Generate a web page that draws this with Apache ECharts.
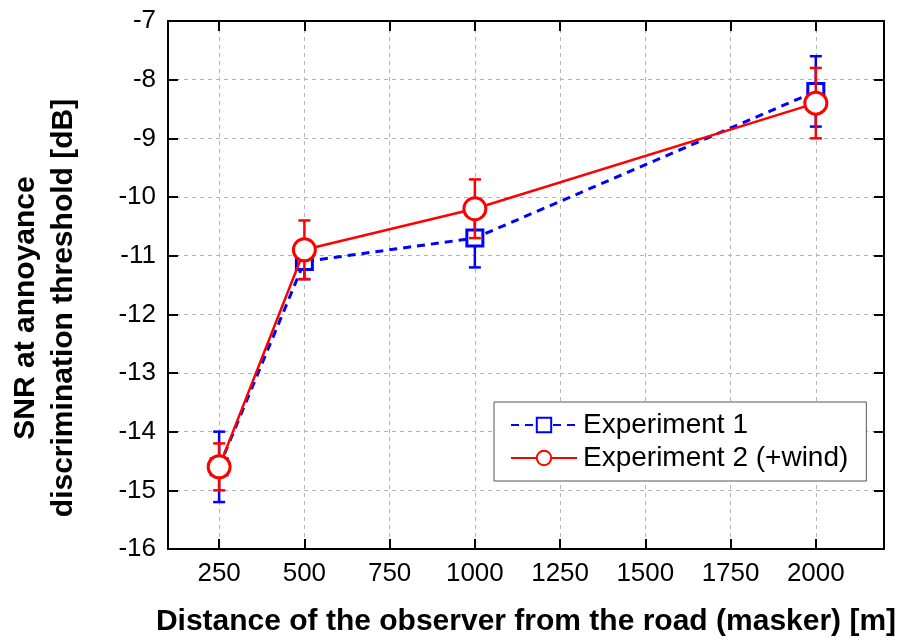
<!DOCTYPE html>
<html><head><meta charset="utf-8">
<script src="https://cdn.jsdelivr.net/npm/echarts@6/dist/echarts.min.js"></script>
<style>html,body{margin:0;padding:0;background:#fff}#c{width:904px;height:642px}</style>
</head><body><div id="c"></div>
<script>
const distances = [250, 500, 1000, 2000];
const exp1Mean = [-14.6, -11.1, -10.7, -8.2];
const exp1Err = [0.6, 0.3, 0.5, 0.6];
const exp2Mean = [-14.6, -10.9, -10.2, -8.4];
const exp2Err = [0.4, 0.5, 0.5, 0.6];
const xTicks = [250, 500, 750, 1000, 1250, 1500, 1750, 2000];
const seriesNames = ['Experiment 1', 'Experiment 2 (+wind)'];
const xTitle = 'Distance of the observer from the road (masker) [m]';
const yTitle = 'SNR at annoyance\ndiscrimination threshold [dB]';

const FONT = "'Liberation Sans', Arial, sans-serif";
const BLUE = '#0000ff';
const RED = '#ff0000';

function errRender(color) {
  return function (params, api) {
    const x = api.value(0), lo = api.value(1), hi = api.value(2);
    const pLo = api.coord([x, lo]), pHi = api.coord([x, hi]);
    const cap = 6;
    const style = { stroke: color, lineWidth: 2.5 };
    return { type: 'group', children: [
      { type: 'line', shape: { x1: pLo[0], y1: pLo[1], x2: pHi[0], y2: pHi[1] }, style: style },
      { type: 'line', shape: { x1: pLo[0] - cap, y1: pLo[1], x2: pLo[0] + cap, y2: pLo[1] }, style: style },
      { type: 'line', shape: { x1: pHi[0] - cap, y1: pHi[1], x2: pHi[0] + cap, y2: pHi[1] }, style: style }
    ]};
  };
}

const errData = (m, e) => distances.map((d, i) => [d, m[i] - e[i], m[i] + e[i]]);
const lineData = (m) => distances.map((d, i) => [d, m[i]]);

const chart = echarts.init(document.getElementById('c'), null, { renderer: 'canvas' });

const baseX = {
  type: 'value', min: 100, max: 2200,
  axisLine: { show: true, onZero: false, lineStyle: { color: '#000', width: 2 } },
  axisTick: { show: true, inside: true, length: 10, customValues: xTicks, lineStyle: { color: '#000', width: 2 } },
  splitLine: { show: false }
};
const baseY = {
  type: 'value', min: -16, max: -7, interval: 1,
  axisLine: { show: true, onZero: false, lineStyle: { color: '#000', width: 2 } },
  axisTick: { show: true, inside: true, length: 10, lineStyle: { color: '#000', width: 2 } },
  splitLine: { show: false }
};

chart.setOption({
  animation: false,
  textStyle: { fontFamily: FONT },
  grid: { left: 168, right: 20, top: 21, bottom: 93, containLabel: false, outerBoundsMode: 'none' },
  xAxis: [
    Object.assign({}, baseX, {
      position: 'bottom',
      axisLabel: { customValues: xTicks, fontSize: 26, color: '#000', margin: 12, fontFamily: FONT,
        formatter: (v) => String(v) },
      splitLine: { show: true, lineStyle: { color: '#b4b4b4', type: [4, 4], width: 1 } },
      name: xTitle,
      nameLocation: 'middle', nameGap: 58,
      nameTextStyle: { fontSize: 30, fontWeight: 'bold', color: '#000', fontFamily: FONT }
    }),
    Object.assign({}, baseX, { position: 'top', axisLabel: { show: false } })
  ],
  yAxis: [
    Object.assign({}, baseY, {
      position: 'left',
      axisLabel: { fontSize: 26, color: '#000', margin: 12, fontFamily: FONT },
      splitLine: { show: true, lineStyle: { color: '#b4b4b4', type: [4, 4], width: 1 } }
    }),
    Object.assign({}, baseY, { position: 'right', axisLabel: { show: false } })
  ],
  graphic: [{
    type: 'text', x: 45, y: 308, rotation: Math.PI / 2,
    style: { text: yTitle, font: "bold 30px 'Liberation Sans', Arial, sans-serif", fill: '#000',
      align: 'center', verticalAlign: 'middle', lineHeight: 38 }
  }],
  legend: {
    data: seriesNames,
    orient: 'vertical',
    left: 494, top: 402,
    padding: [9, 18, 9, 16],
    itemGap: 5,
    itemWidth: 66, itemHeight: 18,
    backgroundColor: '#fff',
    borderColor: '#555', borderWidth: 1, borderRadius: 0,
    textStyle: { fontSize: 28, color: '#000', fontFamily: FONT, padding: [0, 0, 0, 1] }
  },
  series: [
    {
      type: 'custom', name: 'err1', z: 2, silent: true,
      renderItem: errRender(BLUE),
      encode: { x: 0, y: [1, 2] },
      data: errData(exp1Mean, exp1Err)
    },
    {
      type: 'line', name: seriesNames[0], z: 3,
      data: lineData(exp1Mean),
      symbol: 'rect', symbolSize: 16,
      lineStyle: { color: BLUE, width: 3, type: [8, 6] },
      itemStyle: { color: '#fff', borderColor: BLUE, borderWidth: 3 }
    },
    {
      type: 'custom', name: 'err2', z: 4, silent: true,
      renderItem: errRender(RED),
      encode: { x: 0, y: [1, 2] },
      data: errData(exp2Mean, exp2Err)
    },
    {
      type: 'line', name: seriesNames[1], z: 5,
      data: lineData(exp2Mean),
      symbol: 'circle', symbolSize: 22,
      lineStyle: { color: RED, width: 2.5 },
      itemStyle: { color: '#fff', borderColor: RED, borderWidth: 3 }
    }
  ]
});
</script>
</body></html>
